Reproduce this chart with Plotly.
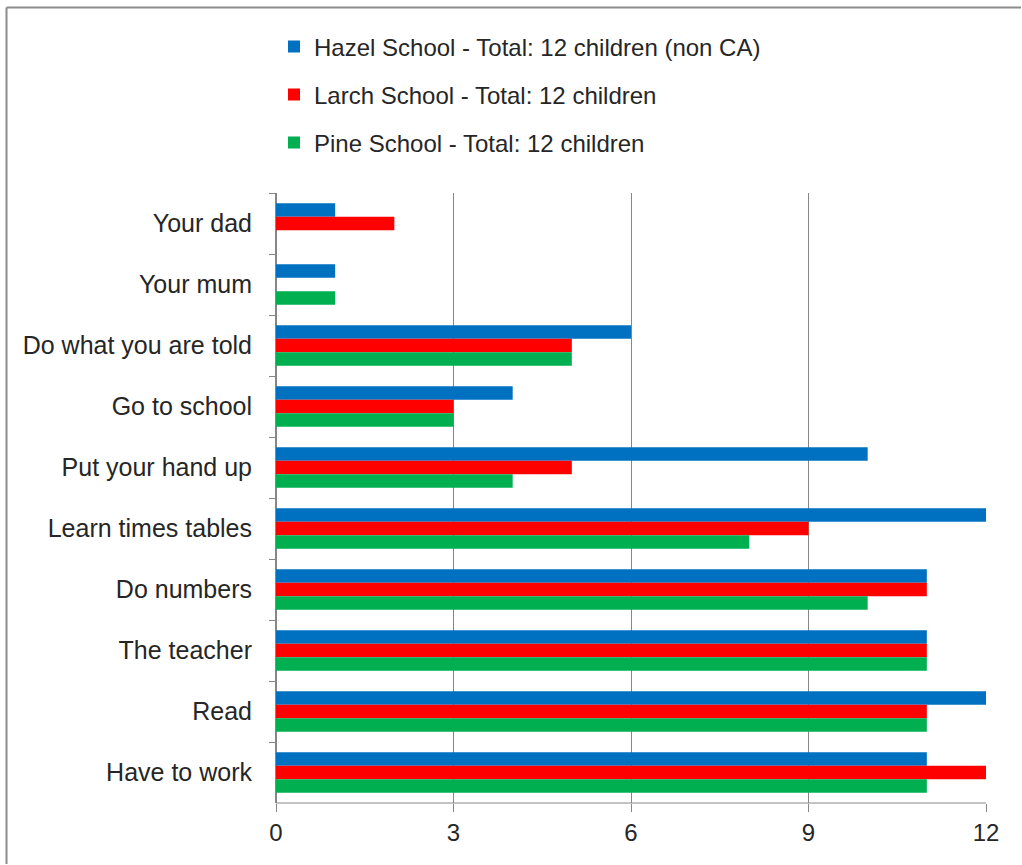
import plotly.graph_objects as go

# Categories listed top to bottom
categories = [
    "Your dad", "Your mum", "Do what you are told", "Go to school",
    "Put your hand up", "Learn times tables", "Do numbers",
    "The teacher", "Read", "Have to work",
]
hazel = [1, 1, 6, 4, 10, 12, 11, 11, 12, 11]
larch = [2, 0, 5, 3, 5, 9, 11, 11, 11, 12]
pine = [0, 1, 5, 3, 4, 8, 10, 11, 11, 11]

series_names = [
    "Hazel School - Total: 12 children (non CA)",
    "Larch School - Total: 12 children",
    "Pine School - Total: 12 children",
]
series_values = [hazel, larch, pine]
colors = ["#0070C0", "#FF0000", "#00B050"]
legend_ids = ["legend", "legend2", "legend3"]

FONT = "Liberation Sans"
TEXT = "#262626"
GRID = "#868686"
W, H = 1022, 865
L, R, T, B = 276, 36, 193, 62

fig = go.Figure()
for name, vals, col, lg in zip(series_names, series_values, colors, legend_ids):
    fig.add_trace(go.Bar(
        y=categories, x=vals, name=name, orientation="h",
        marker=dict(color=col, line=dict(width=0)),
        legend=lg, showlegend=True,
    ))

pw, ph = W - L - R, H - T - B


def px_to_paper_x(px):
    return (px - L) / pw


def px_to_paper_y(py):
    return (H - B - py) / ph


legend_common = dict(
    font=dict(family=FONT, size=24, color=TEXT),
    bgcolor="rgba(0,0,0,0)", xanchor="left", yanchor="middle",
    itemwidth=30, visible=True,
)
legend_rows = [47, 95, 143]
layout_legends = {}
for lg, yy in zip(legend_ids, legend_rows):
    layout_legends[lg] = dict(legend_common, x=px_to_paper_x(274), y=px_to_paper_y(yy))

fig.update_layout(
    width=W, height=H,
    margin=dict(l=L, r=R, t=T, b=B),
    paper_bgcolor="white", plot_bgcolor="white",
    barmode="group", bargap=0.34, bargroupgap=0,
    showlegend=True,
    font=dict(family=FONT, size=24, color=TEXT),
    **layout_legends,
)
fig.update_xaxes(
    range=[0, 12], tickvals=[0, 3, 6, 9, 12],
    showgrid=True, gridcolor=GRID, gridwidth=1,
    showline=False, zeroline=True, zerolinecolor=GRID, zerolinewidth=1,
    ticks="outside", ticklen=8, tickcolor=GRID,
    tickfont=dict(family=FONT, size=24, color=TEXT),
)
fig.update_yaxes(
    autorange="reversed", categoryorder="array", categoryarray=categories,
    showgrid=False, showline=True, linecolor=GRID, linewidth=1,
    ticks="outside", ticklen=6, tickcolor=GRID, tickson="boundaries",
    tickfont=dict(family=FONT, size=25, color=TEXT),
    ticklabelstandoff=18,
)
# bottom boundary line of the plot area
fig.add_shape(type="line", xref="paper", yref="paper", x0=0, x1=1, y0=0, y1=0,
              line=dict(color=GRID, width=1))
# chart frame: top and left edges, kept inside the page
fig.add_shape(type="line", xref="paper", yref="paper",
              x0=px_to_paper_x(6.5), x1=px_to_paper_x(W - 1),
              y0=px_to_paper_y(7.5), y1=px_to_paper_y(7.5),
              line=dict(color="#8C8C8C", width=2), layer="below")
fig.add_shape(type="line", xref="paper", yref="paper",
              x0=px_to_paper_x(6.5), x1=px_to_paper_x(6.5),
              y0=px_to_paper_y(7.5), y1=px_to_paper_y(H - 1),
              line=dict(color="#8C8C8C", width=2), layer="below")

fig.write_html("out.html")
